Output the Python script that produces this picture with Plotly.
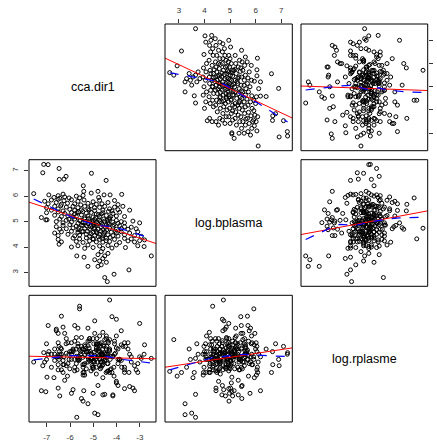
import numpy as np
import plotly.graph_objects as go

# ---------------- data ----------------
var_names = ["cca.dir1", "log.bplasma", "log.rplasme"]

cca_dir1 = [
    -7.13, -6.94, -7.17, -6.47, -6.46, -6.26, -6.17, -5.08, -4.45, -5.43,
    -5.41, -4.80, -4.54, -4.28, -3.78, -7.56, -6.91, -6.69, -6.51, -6.44,
    -6.30, -6.23, -6.04, -5.73, -5.59, -5.44, -5.09, -4.77, -7.09, -6.94,
    -6.80, -6.59, -6.51, -6.37, -6.26, -6.11, -5.94, -5.80, -5.66, -5.54,
    -5.40, -5.23, -5.01, -4.87, -4.73, -4.63, -4.37, -4.09, -3.94, -7.01,
    -6.80, -6.66, -6.51, -6.40, -6.30, -6.16, -6.01, -5.87, -5.80, -5.66,
    -5.51, -5.37, -5.23, -5.09, -4.94, -4.73, -4.59, -4.51, -4.30, -4.20,
    -4.09, -3.94, -3.73, -3.44, -7.23, -7.01, -6.66, -6.51, -6.37, -6.23,
    -6.09, -5.94, -5.87, -5.80, -5.73, -5.63, -5.51, -5.37, -5.30, -5.23,
    -5.09, -5.01, -4.87, -4.73, -4.59, -4.44, -4.30, -4.16, -4.01, -3.87,
    -3.66, -7.04, -6.99, -6.59, -6.44, -6.30, -6.16, -5.94, -5.80, -5.66,
    -5.59, -5.44, -5.37, -5.23, -5.16, -5.01, -4.94, -4.87, -4.73, -4.66,
    -4.51, -4.37, -4.30, -4.16, -4.01, -3.94, -3.80, -3.66, -3.30, -3.01,
    -6.59, -6.44, -6.30, -6.16, -6.01, -5.87, -5.73, -5.66, -5.51, -5.37,
    -5.30, -5.16, -5.09, -4.94, -4.87, -4.80, -4.66, -4.59, -4.44, -4.30,
    -4.16, -4.01, -3.87, -3.80, -3.66, -3.51, -3.37, -3.16, -6.66, -6.51,
    -6.37, -6.09, -5.94, -5.80, -5.66, -5.59, -5.44, -5.30, -5.16, -5.01,
    -4.94, -4.87, -4.73, -4.59, -4.51, -4.37, -4.23, -4.16, -4.01, -3.94,
    -3.80, -3.66, -3.44, -3.23, -3.09, -2.94, -6.51, -6.37, -5.87, -5.73,
    -5.59, -5.44, -5.30, -5.16, -5.01, -4.87, -4.73, -4.59, -4.44, -4.30,
    -4.09, -3.87, -3.66, -3.51, -3.37, -3.23, -3.01, -2.80, -6.47, -5.94,
    -5.66, -5.37, -5.23, -5.01, -4.73, -4.59, -4.37, -4.20, -4.01, -3.62,
    -3.09, -2.82, -5.71, -5.40, -4.80, -4.66, -4.51, -4.37, -2.51, -4.94,
    -4.73, -4.59, -4.44, -5.23, -4.80, -4.66, -3.47, -4.51, -4.40, -4.11,
    -5.55, -5.45, -5.35, -5.20, -5.12, -5.05, -4.98, -4.90, -4.82, -4.78,
    -4.70, -4.62, -4.55, -4.48, -4.40, -4.33, -4.25, -4.12, -4.05, -5.62,
    -5.48, -5.25, -5.10, -4.96, -4.85, -4.68, -4.55, -4.42, -4.28, -4.45,
    -4.62, -4.78, -5.00, -5.18, -4.95, -4.65, -4.35, -5.45, -5.70, -6.05,
]

log_bplasma = [
    7.25, 7.24, 6.92, 7.09, 6.66, 6.67, 6.78, 6.90, 6.62, 6.41,
    6.19, 6.19, 6.05, 6.05, 6.07, 6.10, 6.05, 5.95, 6.02, 5.92,
    6.08, 5.97, 5.93, 6.00, 5.93, 6.03, 6.12, 5.95, 5.80, 5.70,
    5.85, 5.75, 5.88, 5.68, 5.82, 5.72, 5.86, 5.70, 5.80, 5.66,
    5.85, 5.72, 5.78, 5.68, 5.84, 5.70, 5.75, 5.83, 5.67, 5.55,
    5.45, 5.60, 5.50, 5.62, 5.42, 5.57, 5.48, 5.60, 5.44, 5.55,
    5.46, 5.60, 5.50, 5.62, 5.43, 5.56, 5.45, 5.60, 5.50, 5.42,
    5.57, 5.47, 5.60, 5.45, 5.16, 5.35, 5.25, 5.38, 5.20, 5.32,
    5.22, 5.36, 5.18, 5.30, 5.20, 5.38, 5.26, 5.15, 5.33, 5.22,
    5.36, 5.18, 5.30, 5.20, 5.35, 5.24, 5.15, 5.32, 5.22, 5.37,
    5.20, 5.07, 5.07, 5.00, 5.10, 4.95, 5.05, 4.98, 5.10, 4.93,
    5.04, 4.96, 5.10, 4.92, 5.03, 4.95, 5.08, 4.98, 5.06, 4.94,
    5.02, 4.95, 5.10, 4.98, 5.05, 4.93, 5.00, 4.95, 5.02, 4.95,
    4.80, 4.70, 4.85, 4.72, 4.88, 4.75, 4.82, 4.68, 4.86, 4.73,
    4.84, 4.70, 4.88, 4.76, 4.85, 4.70, 4.80, 4.68, 4.87, 4.74,
    4.82, 4.70, 4.84, 4.72, 4.80, 4.70, 4.78, 4.72, 4.55, 4.45,
    4.60, 4.50, 4.62, 4.44, 4.58, 4.47, 4.62, 4.50, 4.43, 4.58,
    4.46, 4.62, 4.50, 4.44, 4.60, 4.48, 4.58, 4.45, 4.55, 4.43,
    4.60, 4.48, 4.55, 4.45, 4.60, 4.42, 4.30, 4.20, 4.35, 4.22,
    4.32, 4.18, 4.36, 4.24, 4.33, 4.20, 4.30, 4.19, 4.35, 4.22,
    4.30, 4.18, 4.34, 4.24, 4.32, 4.20, 4.25, 4.28, 4.11, 4.00,
    4.05, 3.95, 4.08, 3.98, 4.04, 3.94, 4.06, 3.96, 4.08, 3.98,
    4.05, 4.02, 3.65, 3.60, 3.70, 3.82, 3.65, 3.75, 3.65, 3.50,
    3.45, 3.55, 3.40, 3.24, 3.24, 3.30, 3.10, 2.80, 2.64, 2.93,
    5.05, 4.85, 4.95, 5.12, 4.80, 5.02, 4.88, 5.15, 4.92, 5.28,
    5.00, 4.88, 5.10, 4.78, 5.05, 4.90, 5.20, 4.88, 4.62, 4.75,
    4.60, 4.62, 4.52, 4.70, 4.55, 4.62, 4.52, 4.68, 4.38, 4.25,
    4.35, 4.40, 4.30, 5.45, 5.55, 5.30, 5.40, 5.40, 5.35, 5.10,
]

log_rplasme = [
    6.43, 6.40, 6.18, 6.55, 6.45, 6.20, 6.60, 6.30, 6.05, 6.50,
    5.70, 6.35, 6.55, 6.10, 6.15, 6.25, 6.45, 5.95, 6.62, 6.35,
    6.05, 6.80, 6.30, 6.50, 7.27, 6.00, 6.40, 6.58, 6.25, 6.95,
    6.40, 6.85, 6.20, 7.13, 6.35, 5.98, 6.62, 6.30, 6.90, 6.45,
    6.20, 6.65, 5.65, 6.48, 6.75, 6.38, 6.22, 6.60, 6.30, 6.60,
    6.15, 6.40, 6.80, 6.52, 6.28, 6.70, 6.12, 6.45, 6.95, 6.33,
    5.55, 6.58, 6.25, 6.42, 6.80, 6.18, 6.50, 6.35, 6.68, 7.12,
    6.40, 5.80, 6.55, 5.78, 5.70, 6.30, 6.50, 6.10, 6.40, 5.90,
    6.62, 6.30, 6.48, 6.15, 6.72, 6.36, 6.55, 6.22, 6.44, 6.90,
    6.32, 6.12, 6.60, 6.38, 6.25, 6.75, 6.46, 5.62, 6.52, 6.30,
    6.62, 5.68, 5.96, 6.35, 5.60, 6.20, 6.42, 5.65, 6.65, 6.30,
    6.48, 5.50, 6.38, 6.56, 6.27, 6.70, 6.34, 6.15, 6.45, 6.62,
    6.28, 6.08, 6.50, 6.35, 5.85, 6.22, 6.58, 5.74, 5.75, 6.99,
    6.88, 6.40, 6.92, 6.18, 6.45, 5.72, 6.36, 6.55, 6.72, 6.48,
    6.12, 6.66, 6.32, 7.04, 6.52, 5.80, 6.42, 5.62, 6.70, 7.44,
    5.60, 7.07, 6.30, 6.85, 6.15, 6.62, 6.35, 6.10, 6.28, 5.75,
    6.50, 6.22, 6.40, 6.08, 6.60, 6.30, 6.15, 6.45, 6.70, 6.25,
    6.38, 6.02, 6.55, 6.20, 6.42, 6.65, 6.12, 6.36, 5.88, 6.50,
    6.28, 6.05, 6.40, 5.70, 6.22, 6.32, 6.35, 6.10, 6.50, 6.22,
    7.32, 6.05, 6.45, 6.70, 6.15, 6.58, 6.32, 6.82, 6.40, 6.05,
    6.65, 6.30, 6.10, 6.50, 6.25, 6.18, 6.35, 6.58, 6.30, 6.45,
    6.30, 6.00, 6.45, 6.15, 6.60, 6.40, 6.35, 6.05, 6.75, 6.55,
    6.05, 6.40, 5.19, 6.05, 6.60, 6.25, 5.63, 6.40, 6.32, 5.27,
    6.30, 5.95, 6.50, 5.45, 5.24, 6.15, 6.05, 6.68, 6.07, 5.98,
    6.40, 6.20, 6.55, 6.30, 6.45, 6.18, 6.60, 6.35, 6.25, 6.50,
    6.12, 6.40, 6.58, 6.30, 6.22, 6.48, 6.36, 6.15, 6.42, 6.28,
    6.50, 6.35, 6.08, 6.44, 6.70, 6.25, 6.32, 6.55, 6.30, 6.40,
    6.18, 6.46, 6.28, 6.52, 6.25, 6.40, 6.62, 6.34, 6.10, 6.40,
]

cca_tickvals = [-7, -6, -5, -4, -3]
cca_ticktext = ["-7", "-6", "-5", "-4", "-3"]
bpl_tickvals = [3, 4, 5, 6, 7]
bpl_ticktext = ["3", "4", "5", "6", "7"]
rpl_tickvals = [5.5, 6.0, 6.5, 7.0, 7.5]
rpl_ticktext = ["5.5", "6.0", "6.5", "7.0", "7.5"]

# ---------------- helpers ----------------
def lowess(x, y, f=2 / 3, n_iter=3):
    x = np.asarray(x, float)
    y = np.asarray(y, float)
    o = np.argsort(x, kind="mergesort")
    x, y = x[o], y[o]
    n = len(x)
    ns = max(2, min(n, int(f * n + 1e-7)))
    rw = np.ones(n)
    fit = np.zeros(n)
    for it in range(n_iter + 1):
        for i in range(n):
            d = np.abs(x - x[i])
            h = max(np.sort(d)[ns - 1], 1e-12)
            u = d / h
            w = np.where(u < 1, (1 - u ** 3) ** 3, 0.0) * rw
            sw = w.sum()
            if sw <= 0:
                fit[i] = y[i]
                continue
            xm = (w * x).sum() / sw
            ym = (w * y).sum() / sw
            sxx = (w * (x - xm) ** 2).sum()
            if sxx > 1e-10:
                b = (w * (x - xm) * (y - ym)).sum() / sxx
                fit[i] = ym + b * (x[i] - xm)
            else:
                fit[i] = ym
        if it == n_iter:
            break
        res = y - fit
        m = np.median(np.abs(res))
        if m == 0:
            break
        u = res / (6 * m)
        rw = np.where(np.abs(u) < 1, (1 - u ** 2) ** 2, 0.0)
    return x, fit


data = [np.array(cca_dir1), np.array(log_bplasma), np.array(log_rplasme)]
ticks = [(cca_tickvals, cca_ticktext), (bpl_tickvals, bpl_ticktext), (rpl_tickvals, rpl_ticktext)]
ranges = []
for v in data:
    lo, hi = v.min(), v.max()
    d = hi - lo
    ranges.append([lo - 0.04 * d, hi + 0.04 * d])

# ---------------- layout geometry (pixels) ----------------
W, H = 437, 443
col_px = [(29, 156), (165, 292.3), (301, 427.7)]
row_px = [(24, 150.7), (159.7, 286.3), (295.3, 422)]

FONT = "Liberation Sans, Arial, Helvetica, sans-serif"
TICKCOL = "#333333"
tickfont = dict(family=FONT, size=8, color=TICKCOL)

fig = go.Figure()
layout = dict(
    width=W, height=H,
    margin=dict(l=0, r=0, t=0, b=0, autoexpand=False),
    paper_bgcolor="white", plot_bgcolor="white",
    showlegend=False, template="none",
    shapes=[], annotations=[],
)

for i in range(3):
    for j in range(3):
        k = i * 3 + j + 1
        xs = "" if k == 1 else str(k)
        xname, yname = "xaxis" + xs, "yaxis" + xs
        xref, yref = "x" + xs, "y" + xs
        c0, c1 = col_px[j]
        r0, r1 = row_px[i]

        xa = dict(domain=[c0 / W, c1 / W], range=ranges[j], anchor=yref,
                  showgrid=False, zeroline=False, showline=False, automargin=False,
                  ticks="", showticklabels=False, fixedrange=True)
        ya = dict(domain=[1 - r1 / H, 1 - r0 / H], range=ranges[i], anchor=xref,
                  showgrid=False, zeroline=False, showline=False, automargin=False,
                  ticks="", showticklabels=False, fixedrange=True)

        tick_common = dict(ticks="outside", ticklen=4, tickwidth=1, tickcolor=TICKCOL,
                           showticklabels=True, tickfont=tickfont, tickmode="array")
        if (i == 2 and j in (0, 2)):
            xa.update(tick_common, side="bottom", tickvals=ticks[j][0], ticktext=ticks[j][1],
                      ticklabelstandoff=3)
        if (i == 0 and j == 1):
            xa.update(tick_common, side="top", tickvals=ticks[j][0], ticktext=ticks[j][1],
                      ticklabelstandoff=3)
        if (j == 0 and i == 1):
            ya.update(tick_common, side="left", tickvals=ticks[i][0], ticktext=ticks[i][1],
                      tickangle=-90, ticklabelstandoff=3)
        if (j == 2 and i in (0, 2)):
            # labels of this axis fall outside the visible page in the reference
            ya.update(tick_common, side="right", tickvals=ticks[i][0], ticktext=ticks[i][1],
                      showticklabels=False)
        layout[xname] = xa
        layout[yname] = ya

        layout["shapes"].append(dict(type="rect", xref=xref + " domain", yref=yref + " domain",
                                     x0=0, x1=1, y0=0, y1=1,
                                     line=dict(color="black", width=1), layer="above"))

        if i == j:
            layout["annotations"].append(dict(
                x=(c0 + c1) / 2 / W, y=1 - (r0 + r1) / 2 / H, xref="paper", yref="paper",
                text=var_names[i], showarrow=False,
                font=dict(family=FONT, size=12.5, color="black"),
                xanchor="center", yanchor="middle"))
            continue

        x = data[j]
        y = data[i]
        fig.add_trace(go.Scatter(
            x=x, y=y, mode="markers", xaxis=xref, yaxis=yref,
            marker=dict(symbol="circle-open", size=4, color="black", line=dict(width=1, color="black")),
            hoverinfo="skip"))
        b, a = np.polyfit(x, y, 1)
        xl = np.array(ranges[j])
        fig.add_trace(go.Scatter(
            x=xl, y=a + b * xl, mode="lines", xaxis=xref, yaxis=yref,
            line=dict(color="red", width=1), hoverinfo="skip"))
        lx, ly = lowess(x, y)
        fig.add_trace(go.Scatter(
            x=lx, y=ly, mode="lines", xaxis=xref, yaxis=yref,
            line=dict(color="blue", width=1.2, dash="dash"), hoverinfo="skip"))

fig.update_layout(**layout)
fig.write_html("out.html", config={"displayModeBar": False},
               post_script="document.body.style.margin='0';document.body.style.overflow='hidden';")
